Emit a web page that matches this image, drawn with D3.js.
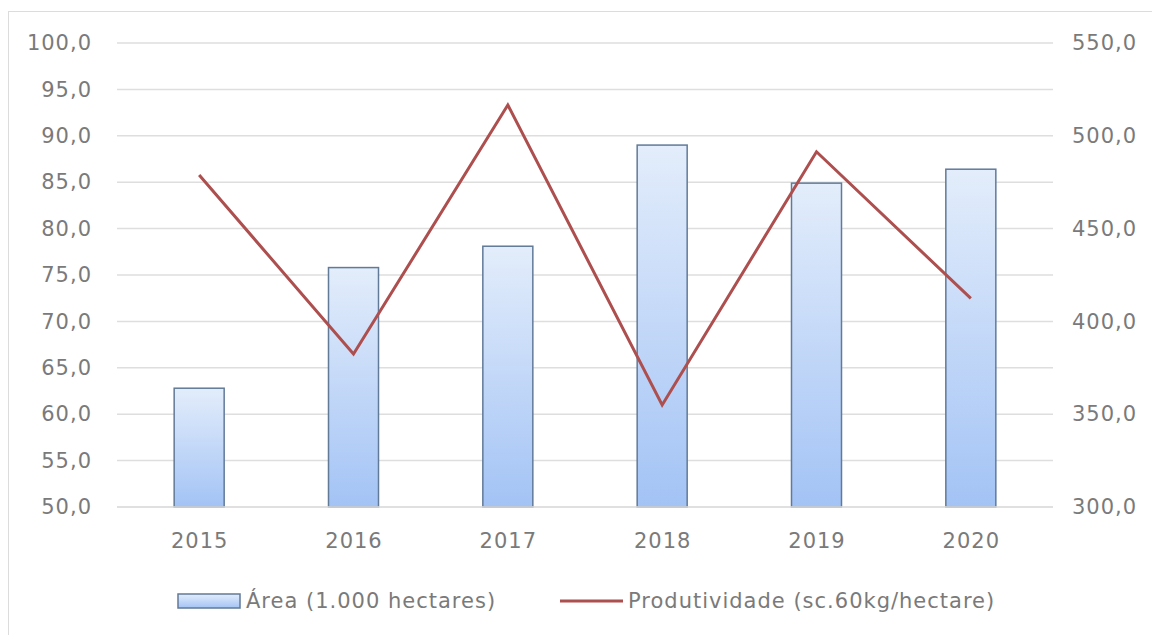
<!DOCTYPE html>
<html lang="pt-BR">
<head>
<meta charset="utf-8">
<title>Área e Produtividade</title>
<script src="https://cdn.jsdelivr.net/npm/d3@7"></script>
<style>
  html, body { margin: 0; padding: 0; background: #fff; }
  text { font-family: "DejaVu Sans", Verdana, sans-serif; fill: #7a7a7a; letter-spacing: 1px; }
</style>
</head>
<body>
<div id="chart"></div>
<script>
// Dados do gráfico
const anos = ["2015", "2016", "2017", "2018", "2019", "2020"];
const area = [62.8, 75.8, 78.1, 89.0, 84.9, 86.4]; // 1.000 hectares
const produtividade = [478.9, 382.4, 516.6, 355.0, 491.4, 412.4]; // sc.60kg/hectare
const ticksEsq = [50, 55, 60, 65, 70, 75, 80, 85, 90, 95, 100];
const ticksDir = [300, 350, 400, 450, 500, 550];
const legendaArea = "Área (1.000 hectares)";
const legendaProd = "Produtividade (sc.60kg/hectare)";

// Configurações
const config = {
  width: 1152,
  height: 635,
  plot: { left: 122, right: 1048, top: 43, bottom: 507 },
  fontSize: 21,
  barWidth: 50,
  lineColor: "#ad4f4e",
  gridColor: "#dedede",
};

const { width, height, plot, fontSize, barWidth } = config;
const fmt = v => v.toFixed(1).replace(".", ",");

const svg = d3.select("#chart")
  .append("svg")
  .attr("width", width)
  .attr("height", height);

// Gradiente das barras
const grad = svg.append("defs").append("linearGradient")
  .attr("id", "barGrad")
  .attr("x1", 0).attr("y1", 0).attr("x2", 0).attr("y2", 1);
grad.append("stop").attr("offset", "0%").attr("stop-color", "#e3edfb");
grad.append("stop").attr("offset", "100%").attr("stop-color", "#a3c3f5");

// Moldura do gráfico
svg.append("rect")
  .attr("x", 8.5).attr("y", 11.5)
  .attr("width", width + 20).attr("height", height + 20)
  .style("fill", "none")
  .style("stroke", "#dcdcdc")
  .style("stroke-width", 1);

// Escalas
const x = d3.scalePoint().domain(anos).range([plot.left, plot.right]).padding(0.5);
const yEsq = d3.scaleLinear().domain([50, 100]).range([plot.bottom, plot.top]);
const yDir = d3.scaleLinear().domain([300, 550]).range([plot.bottom, plot.top]);

// Linhas de grade
svg.append("g")
  .selectAll("line")
  .data(ticksEsq)
  .join("line")
  .attr("x1", plot.left - 5)
  .attr("x2", plot.right + 5)
  .attr("y1", d => yEsq(d))
  .attr("y2", d => yEsq(d))
  .style("stroke", config.gridColor)
  .style("stroke-width", 1.5);

// Eixo esquerdo
const eixoEsq = svg.append("g")
  .attr("transform", `translate(${plot.left - 30},0)`)
  .call(d3.axisLeft(yEsq).tickValues(ticksEsq).tickFormat(fmt).tickSize(0).tickPadding(0));
eixoEsq.select(".domain").remove();
eixoEsq.selectAll("text")
  .attr("font-size", fontSize)
  .attr("font-family", null);

// Eixo direito
const eixoDir = svg.append("g")
  .attr("transform", `translate(${plot.right + 24},0)`)
  .call(d3.axisRight(yDir).tickValues(ticksDir).tickFormat(fmt).tickSize(0).tickPadding(0));
eixoDir.select(".domain").remove();
eixoDir.selectAll("text")
  .attr("font-size", fontSize)
  .attr("font-family", null);

// Barras (área)
svg.append("g")
  .selectAll("rect")
  .data(area)
  .join("rect")
  .attr("x", (d, i) => x(anos[i]) - barWidth / 2)
  .attr("y", d => yEsq(d))
  .attr("width", barWidth)
  .attr("height", d => yEsq(50) - yEsq(d))
  .style("fill", "url(#barGrad)")
  .style("stroke", "#617a98")
  .style("stroke-width", 1.5);

// Linha da base
svg.append("line")
  .attr("x1", plot.left - 5).attr("x2", plot.right + 5)
  .attr("y1", yEsq(50)).attr("y2", yEsq(50))
  .style("stroke", config.gridColor)
  .style("stroke-width", 1.5);

// Eixo X
const eixoX = svg.append("g")
  .attr("transform", `translate(0,${plot.bottom + 26})`)
  .call(d3.axisBottom(x).tickSize(0).tickPadding(0));
eixoX.select(".domain").remove();
eixoX.selectAll("text")
  .attr("font-size", fontSize)
  .attr("font-family", null);

// Linha de produtividade
const linha = d3.line()
  .x((d, i) => x(anos[i]))
  .y(d => yDir(d));

svg.append("path")
  .datum(produtividade)
  .attr("d", linha)
  .style("fill", "none")
  .style("stroke", config.lineColor)
  .style("stroke-width", 3)
  .style("stroke-linejoin", "miter");

// Legenda
const leg = svg.append("g").attr("transform", "translate(0,601)");
leg.append("rect")
  .attr("x", 178).attr("y", -7)
  .attr("width", 62).attr("height", 14)
  .style("fill", "url(#barGrad)")
  .style("stroke", "#617a98")
  .style("stroke-width", 1.5);
leg.append("text")
  .attr("x", 246).attr("dy", "0.35em")
  .attr("font-size", fontSize)
  .text(legendaArea);
leg.append("line")
  .attr("x1", 560).attr("x2", 623)
  .style("stroke", config.lineColor)
  .style("stroke-width", 3);
leg.append("text")
  .attr("x", 628).attr("dy", "0.35em")
  .attr("font-size", fontSize)
  .text(legendaProd);
</script>
</body>
</html>
